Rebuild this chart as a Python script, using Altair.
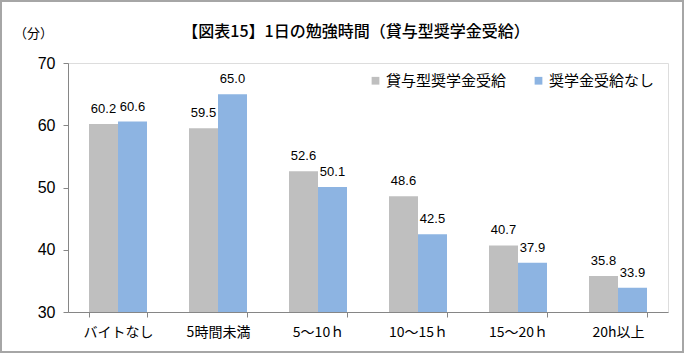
import altair as alt
import pandas as pd

categories = ["バイトなし", "5時間未満", "5～10ｈ", "10～15ｈ", "15～20ｈ", "20h以上"]
series_names = ["貸与型奨学金受給", "奨学金受給なし"]
loan_values = [60.2, 59.5, 52.6, 48.6, 40.7, 35.8]
none_values = [60.6, 65.0, 50.1, 42.5, 37.9, 33.9]
colors = ["#bfbfbf", "#8db4e2"]

rows = []
for c, a, b in zip(categories, loan_values, none_values):
    rows.append({"cat": c, "series": series_names[0], "value": a})
    rows.append({"cat": c, "series": series_names[1], "value": b})
df = pd.DataFrame(rows)

FONT = "Liberation Sans Narrow, Liberation Sans, Noto Sans CJK JP"
JFONT = "Noto Sans CJK JP"

x_enc = alt.X(
    "cat:N", sort=categories,
    scale=alt.Scale(paddingInner=0.42, paddingOuter=0.21),
    axis=alt.Axis(title=None, labelAngle=0, labelFontSize=14, labelFont=JFONT,
                  labelColor="#000000", labelPadding=8, tickBand="extent",
                  domainColor="#868686", tickColor="#868686", tickSize=5),
)
xoff = alt.XOffset("series:N", sort=series_names, scale=alt.Scale(paddingInner=0, paddingOuter=0))
y_enc = alt.Y(
    "value:Q",
    scale=alt.Scale(domain=[30, 70], zero=False, nice=False),
    axis=alt.Axis(values=[30, 40, 50, 60, 70], title="（分）", titleAngle=0,
                  titleX=-35, titleY=-30, titleAlign="center", titleBaseline="middle",
                  titleFont=JFONT, titleFontSize=13, titleFontWeight="normal",
                  labelFontSize=16, labelFont=FONT, labelColor="#000000",
                  labelPadding=8, grid=False, domainColor="#868686",
                  tickColor="#868686", tickSize=5),
)

bars = alt.Chart(df).mark_bar(clip=True).encode(
    x=x_enc, xOffset=xoff, y=y_enc,
    color=alt.Color("series:N", sort=series_names,
                    scale=alt.Scale(domain=series_names, range=colors),
                    legend=alt.Legend(title=None, orient="none", legendX=300, legendY=10,
                                      direction="horizontal", symbolType="square",
                                      symbolSize=60, symbolStrokeWidth=0,
                                      labelFont=JFONT, labelFontSize=15,
                                      labelColor="#000000", columnPadding=24,
                                      labelOffset=3)),
)

labels = alt.Chart(df).mark_text(dy=-15, fontSize=13, font=FONT, color="#000000").encode(
    x=alt.X("cat:N", sort=categories), xOffset=alt.XOffset("series:N", sort=series_names),
    y="value:Q", text=alt.Text("value:Q", format=".1f"),
)

frame = alt.Chart(pd.DataFrame({"k": [0]})).mark_rect(
    fill=None, stroke="#a6a6a6", strokeWidth=2
).encode(
    x=alt.value(-67), x2=alt.value(615), y=alt.value(-62), y2=alt.value(289)
)

chart = alt.layer(frame, bars, labels).properties(
    width=600, height=249,
    padding={"left": 68, "top": 63, "right": 16, "bottom": 41},
    autosize=alt.AutoSizeParams(type="none"),
    title=alt.TitleParams("【図表15】1日の勉強時間（貸与型奨学金受給）", font=JFONT,
                          fontSize=16, fontWeight=500, anchor="middle", dx=-12,
                          offset=-48, baseline="middle", color="#000000"),
).configure_view(stroke=None).configure(background="white")

chart.save("out.html", embed_options={"renderer": "svg", "actions": False})
